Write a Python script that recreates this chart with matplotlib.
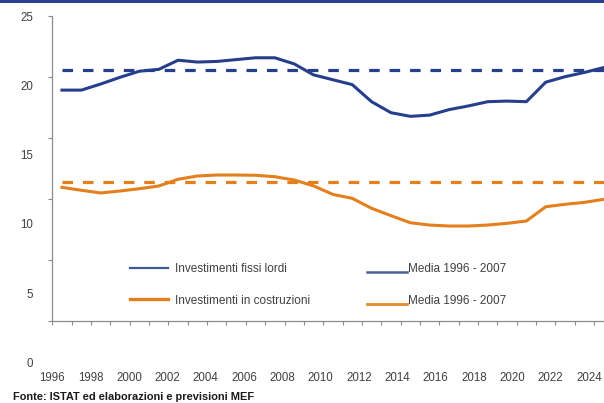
import matplotlib
matplotlib.use("Agg")
import numpy as np
import matplotlib.pyplot as plt
from matplotlib.lines import Line2D
from matplotlib.patches import Rectangle
from matplotlib.legend_handler import HandlerLine2D

plt.rcParams["font.family"] = ["Liberation Sans", "DejaVu Sans"]

# investimenti in % del PIL
years = list(range(1996, 2025))
fissi = [18.95, 18.95, 19.45, 20.0, 20.5, 20.65, 21.4, 21.25, 21.3, 21.45, 21.6, 21.6,
         21.1, 20.2, 19.8, 19.4, 18.0, 17.1, 16.8, 16.9, 17.35, 17.65, 18.0, 18.05,
         18.0, 19.6, 20.05, 20.4, 20.8]
costruzioni = [10.98, 10.74, 10.52, 10.68, 10.87, 11.09, 11.64, 11.91, 11.99, 11.99, 11.97, 11.85,
               11.58, 11.1, 10.4, 10.08, 9.26, 8.66, 8.08, 7.89, 7.81, 7.81, 7.89, 8.03,
               8.22, 9.39, 9.59, 9.75, 10.0]
media_fissi = 20.6
media_costruzioni = 11.4

ytick_vals = [0, 5, 10, 15, 20, 25]
xtick_years = list(range(1996, 2025, 2))
fonte = "Fonte: ISTAT ed elaborazioni e previsioni MEF"

BLUE = "#263f8c"
ORANGE = "#e37f1c"
GREY = "#8c8c8c"
TXT = "#404040"

W, H = 604, 403
fig = plt.figure(figsize=(W / 100, H / 100), dpi=100)

# main plotting area (pixel based placement)
ax = fig.add_axes([52.3 / W, (H - 321.3) / H, (W - 52.3) / W, 305 / H])
ax.set_xlim(1995.5, 1995.5 + (W - 52.3) / 19.35)
ax.set_ylim(0, 25)

l1, = ax.plot(years, fissi, color=BLUE, lw=2.2, solid_joinstyle="round")
l2, = ax.plot(years, costruzioni, color=ORANGE, lw=2.2, solid_joinstyle="round")
ax.plot(years, [media_fissi] * len(years), color=BLUE, lw=2.3, dashes=(3.3, 3.1))
ax.plot(years, [media_costruzioni] * len(years), color=ORANGE, lw=2.3, dashes=(3.3, 3.1))

for s in ("top", "right"):
    ax.spines[s].set_visible(False)
for s in ("left", "bottom"):
    ax.spines[s].set_color(GREY)
    ax.spines[s].set_linewidth(0.9)
ax.set_yticks(ytick_vals)
ax.set_xticks(np.arange(1995.5, 2024, 1))
ax.tick_params(length=3.2, width=0.8, color=GREY, labelleft=False, labelbottom=False)

# tick labels live on a separate, slightly offset axis
lab = fig.add_axes([52.3 / W, (H - 362.3) / H, (W - 52.3) / W, 346 / H])
lab.set_ylim(0, 25)
lab.set_xlim(1996 + 0.3 / 19.18, 1996 + (W - 52) / 19.18)
lab.patch.set_visible(False)
for s in lab.spines.values():
    s.set_visible(False)
lab.set_yticks(ytick_vals)
lab.set_xticks(xtick_years)
lab.tick_params(axis="y", length=0, pad=13.9, labelsize=8.3, labelcolor=TXT)
lab.tick_params(axis="x", length=0, pad=7, labelsize=8.3, labelcolor=TXT)


class LowLine(HandlerLine2D):
    def create_artists(self, legend, orig_handle, xdescent, ydescent, width, height, fontsize, trans):
        return super().create_artists(legend, orig_handle, xdescent, ydescent + 6, width, height,
                                      fontsize, trans)


h1 = [Line2D([], [], color="#3f5a94", lw=1.6), Line2D([], [], color=ORANGE, lw=2.4)]
leg1 = fig.legend(h1, ["Investimenti fissi lordi", "Investimenti in costruzioni"],
                  loc="center left", bbox_to_anchor=(130 / W, 1 - 285 / H), frameon=False,
                  borderpad=0, borderaxespad=0, handlelength=3.2, handletextpad=0.6,
                  labelspacing=1.63, fontsize=8.5, labelcolor=TXT)

h2 = [Line2D([], [], color="#4a6294", lw=1.8), Line2D([], [], color="#e58a28", lw=2.0)]
leg2 = fig.legend(h2, ["Media 1996 - 2007", "Media 1996 - 2007"],
                  loc="center left", bbox_to_anchor=(366.7 / W, 1 - 285 / H), frameon=False,
                  borderpad=0, borderaxespad=0, handlelength=3.4, handletextpad=0.12,
                  labelspacing=1.63, fontsize=8.5, labelcolor=TXT,
                  handler_map={h: LowLine() for h in h2})

# header rule and source note
fig.add_artist(Rectangle((0, 1 - 2.5 / H), 1, 2.5 / H, transform=fig.transFigure,
                         color="#2a3f8f", lw=0))
fig.text(13 / W, 3 / H, fonte, fontsize=7.9, fontweight="bold", color="#1a1a1a",
         ha="left", va="baseline")

fig.savefig("out.png", dpi=100, facecolor="white")
